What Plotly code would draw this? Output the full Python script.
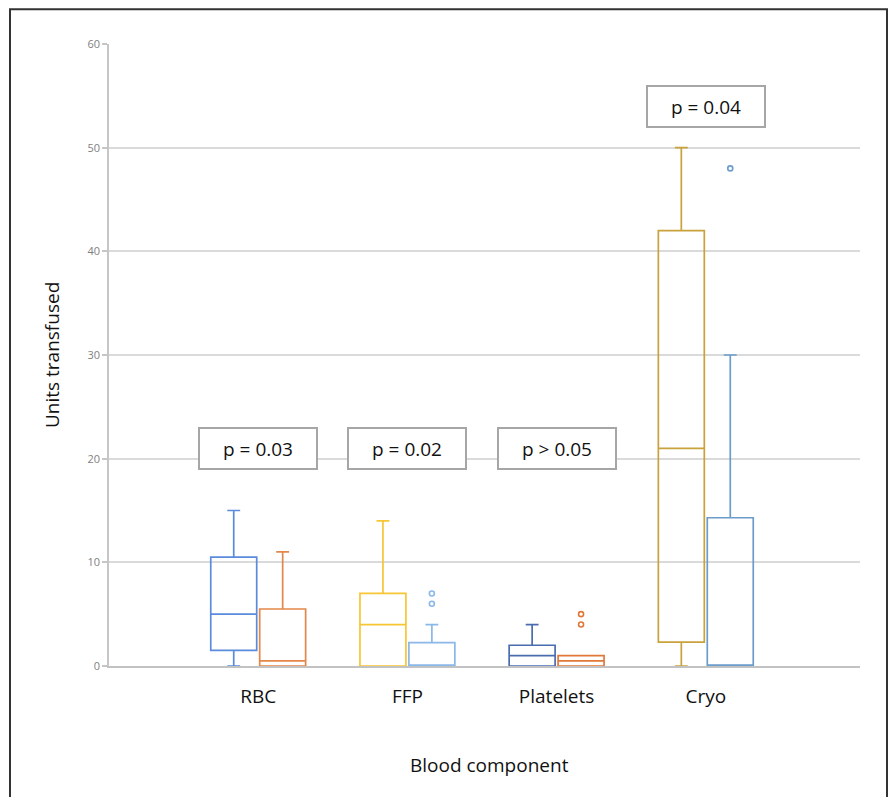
import plotly.graph_objects as go

# ---- data ----
categories = ["RBC", "FFP", "Platelets", "Cryo"]
# group A (left box) and group B (right box) per category
a_q1 = [1.5, 0, 0, 2.3]
a_median = [5, 4, 1, 21]
a_q3 = [10.5, 7, 2, 42]
a_low = [0, 0, 0, 0]
a_high = [15, 14, 4, 50]
a_out = [[], [], [], []]

b_q1 = [0, 0, 0, 0]
b_median = [0.5, 0, 0.5, 0]
b_q3 = [5.5, 2.25, 1, 14.3]
b_low = [0, 0, 0, 0]
b_high = [11, 4, 1, 30]
b_out = [[], [7, 6], [5, 4], [48]]

a_colors = ["#5b8bdc", "#f7c633", "#4a6db0", "#c9a23c"]
b_colors = ["#e3874a", "#8ab8e8", "#e0783a", "#6a9ccc"]

p_labels = ["p = 0.03", "p = 0.02", "p > 0.05", "p = 0.04"]
p_y = [21, 21, 21, 54]

# ---- layout constants ----
OFF = 8  # page body margin
W, H = 896 - 2 * OFF, 805 - 2 * OFF
L, T = 109 - OFF, 44 - OFF
pw, ph = 751, 622
R, B = W - L - pw, H - T - ph
box_w = 0.308
off = 0.164
font = "Open Sans"


def px_x(x):
    return (x - OFF - L) / pw


def px_y(y):
    return (T + ph - (y - OFF)) / ph


fig = go.Figure()
pos = list(range(1, len(categories) + 1))

for i, p in enumerate(pos):
    for side, q1, med, q3, lo, hi, outs, col in [
        (-1, a_q1, a_median, a_q3, a_low, a_high, a_out, a_colors),
        (1, b_q1, b_median, b_q3, b_low, b_high, b_out, b_colors),
    ]:
        x = p + side * off
        fig.add_trace(go.Box(
            x=[x], q1=[q1[i]], median=[med[i]], q3=[q3[i]],
            lowerfence=[lo[i]], upperfence=[hi[i]],
            width=box_w, whiskerwidth=0.28,
            line=dict(color=col[i], width=1.7),
            fillcolor="rgba(0,0,0,0)", boxpoints=False,
            showlegend=False, hoverinfo="skip",
        ))
        if outs[i]:
            fig.add_trace(go.Scatter(
                x=[x] * len(outs[i]), y=outs[i], mode="markers",
                marker=dict(symbol="circle-open", size=5,
                            color=col[i], line=dict(width=1.6)),
                showlegend=False, hoverinfo="skip",
            ))

annotations = []
for p, txt, y in zip(pos, p_labels, p_y):
    annotations.append(dict(
        x=p, y=y, xref="x", yref="y", text=txt, showarrow=False,
        font=dict(family=font, size=19, color="#111"),
        width=112, height=35, bgcolor="white",
        bordercolor="#a6a6a6", borderwidth=2, borderpad=2,
    ))

annotations.append(dict(
    x=px_x(52), y=px_y(355), xref="paper", yref="paper",
    text="Units transfused", textangle=-90, showarrow=False,
    font=dict(family=font, size=19, color="#111"),
    xanchor="center", yanchor="middle",
))
annotations.append(dict(
    x=px_x(489), y=px_y(765), xref="paper", yref="paper",
    text="Blood component", showarrow=False,
    font=dict(family=font, size=19, color="#111"),
    xanchor="center", yanchor="middle",
))

fig.update_layout(
    width=W, height=H,
    margin=dict(l=L, r=R, t=T, b=B),
    paper_bgcolor="white", plot_bgcolor="white",
    font=dict(family=font),
    annotations=annotations,
    shapes=[dict(
        type="rect", xref="paper", yref="paper",
        x0=px_x(10), x1=px_x(887),
        y0=px_y(830), y1=px_y(9.2),
        line=dict(color="#333", width=2), fillcolor="rgba(0,0,0,0)",
    )],
)
fig.update_xaxes(
    range=[0, pw / 149.2], tickvals=pos, ticktext=categories,
    showgrid=False, zeroline=False, showline=True, linecolor="#c2c2c2",
    linewidth=2, ticks="", ticklabelstandoff=12,
    tickfont=dict(family=font, size=19, color="#111"),
)
fig.update_yaxes(
    range=[0, 60], dtick=10, showgrid=True, gridcolor="#dadada", gridwidth=1.5,
    zeroline=False, showline=True, linecolor="#c6c6c6", linewidth=1.5,
    ticks="outside", ticklen=5, tickcolor="#c6c6c6", tickwidth=1.5,
    tickfont=dict(family=font, size=11, color="#7f7f7f"),
)

fig.write_html("out.html")
